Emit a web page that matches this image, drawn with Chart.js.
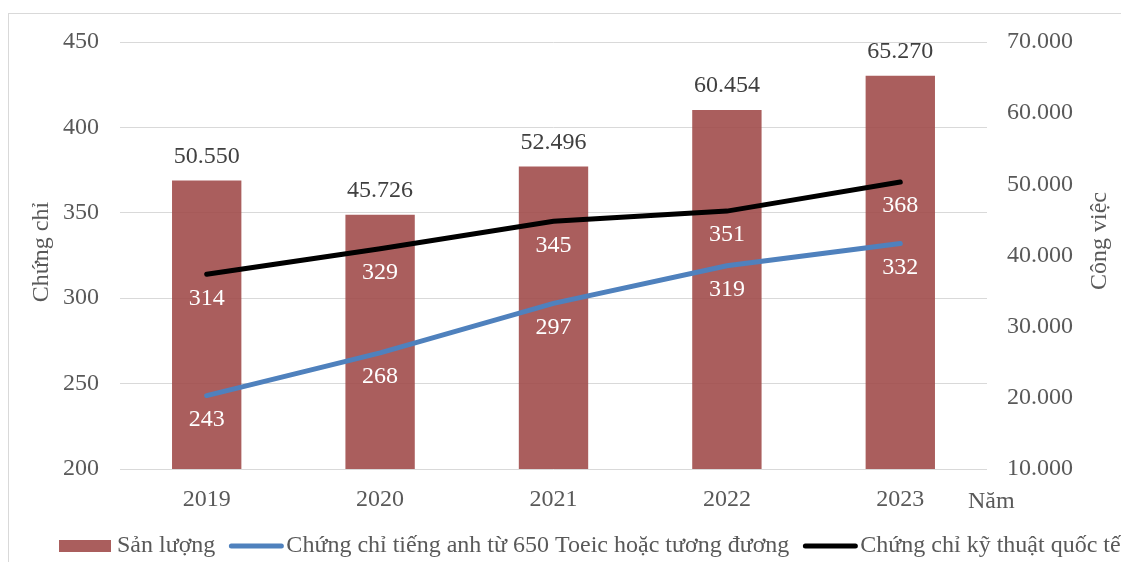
<!DOCTYPE html>
<html>
<head>
<meta charset="utf-8">
<script src="https://cdn.jsdelivr.net/npm/chart.js@4.4.0/dist/chart.umd.min.js"></script>
<style>
  html, body { margin: 0; padding: 0; background: #fff; }
  #wrap { width: 1121px; height: 562px; position: relative; }
</style>
</head>
<body>
<div id="wrap"><canvas id="sanLuongChart" width="1121" height="562"></canvas></div>
<script>
// Dữ liệu theo năm
const years = ['2019', '2020', '2021', '2022', '2023'];
const sanLuong = [50550, 45726, 52496, 60454, 65270];
const chungChiTiengAnh = [243, 268, 297, 319, 332];
const chungChiKyThuat = [314, 329, 345, 351, 368];
const leftTicks = [200, 250, 300, 350, 400, 450];
const rightTicks = [10000, 20000, 30000, 40000, 50000, 60000, 70000];

const FONT = '"Liberation Serif", "Times New Roman", serif';
const FONT_SIZE = 24;
const TEXT_GRAY = '#595959';
const GRID_GRAY = '#D9D9D9';

// 50550 -> "50.550"
function formatNumber(v) {
    return String(v).replace(/\B(?=(\d{3})+(?!\d))/g, '.');
}

// Nhãn giá trị: trên cột cho sản lượng, dưới điểm cho hai đường
const valueLabels = {
    id: 'valueLabels',
    afterDatasetsDraw(chart) {
        const ctx = chart.ctx;
        ctx.save();
        ctx.font = FONT_SIZE + 'px ' + FONT;
        ctx.textAlign = 'center';
        ctx.textBaseline = 'middle';
        chart.data.datasets.forEach((ds, i) => {
            const meta = chart.getDatasetMeta(i);
            meta.data.forEach((el, j) => {
                if (ds.type === 'bar') {
                    ctx.fillStyle = '#404040';
                    ctx.fillText(formatNumber(ds.data[j]), el.x, el.y - 24);
                } else {
                    ctx.fillStyle = '#FFFFFF';
                    ctx.fillText(String(ds.data[j]), el.x, el.y + 24);
                }
            });
        });
        ctx.restore();
    }
};

// Khung viền, tiêu đề trục và chú giải
const decorations = {
    id: 'decorations',
    afterDraw(chart) {
        const ctx = chart.ctx;
        ctx.save();

        ctx.strokeStyle = GRID_GRAY;
        ctx.lineWidth = 1;
        ctx.strokeRect(8.5, 13.5, 1300, 700);

        ctx.fillStyle = TEXT_GRAY;
        ctx.font = FONT_SIZE + 'px ' + FONT;
        ctx.textAlign = 'center';
        ctx.textBaseline = 'middle';
        ctx.save();
        ctx.translate(42, 252);
        ctx.rotate(-Math.PI / 2);
        ctx.fillText('Chứng chỉ', 0, 0);
        ctx.restore();
        ctx.save();
        ctx.translate(1100, 241);
        ctx.rotate(-Math.PI / 2);
        ctx.fillText('Công việc', 0, 0);
        ctx.restore();

        ctx.textAlign = 'left';
        ctx.fillText('Năm', 968, 502);

        // chú giải: cột, đường xanh, đường đen
        const legendY = 546;
        const items = [chart.data.datasets[2], chart.data.datasets[0], chart.data.datasets[1]];
        let x = 59;
        items.forEach(ds => {
            if (ds.type === 'bar') {
                ctx.fillStyle = ds.backgroundColor;
                ctx.fillRect(x, legendY - 6, 52, 12);
                x += 58;
            } else {
                ctx.strokeStyle = ds.borderColor;
                ctx.lineWidth = 5;
                ctx.lineCap = 'round';
                ctx.beginPath();
                ctx.moveTo(x + 3, legendY);
                ctx.lineTo(x + 53, legendY);
                ctx.stroke();
                x += 58;
            }
            ctx.fillStyle = TEXT_GRAY;
            ctx.fillText(ds.label, x, legendY);
            x += ctx.measureText(ds.label).width + 13;
        });
        ctx.restore();
    }
};

const ctx = document.getElementById('sanLuongChart').getContext('2d');
new Chart(ctx, {
    data: {
        labels: years,
        datasets: [
            {
                type: 'line',
                label: 'Chứng chỉ tiếng anh từ 650 Toeic hoặc tương đương',
                data: chungChiTiengAnh,
                yAxisID: 'y',
                borderColor: '#4F81BD',
                borderWidth: 5,
                borderCapStyle: 'round',
                pointRadius: 0,
                fill: false,
                order: 1
            },
            {
                type: 'line',
                label: 'Chứng chỉ kỹ thuật quốc tế',
                data: chungChiKyThuat,
                yAxisID: 'y',
                borderColor: '#000000',
                borderWidth: 5,
                borderCapStyle: 'round',
                pointRadius: 0,
                fill: false,
                order: 2
            },
            {
                type: 'bar',
                label: 'Sản lượng',
                data: sanLuong,
                yAxisID: 'y1',
                backgroundColor: 'rgba(158, 72, 71, 0.88)',
                barPercentage: 0.4,
                categoryPercentage: 1,
                order: 3
            }
        ]
    },
    options: {
        responsive: false,
        animation: false,
        layout: { padding: { top: 42, left: 0, right: 0, bottom: 0 } },
        plugins: {
            legend: { display: false },
            tooltip: { enabled: false }
        },
        scales: {
            x: {
                grid: { display: false, drawTicks: false },
                border: { display: false },
                ticks: { font: { family: FONT, size: FONT_SIZE }, color: TEXT_GRAY, padding: 16 },
                afterFit: s => { s.height = 93; }
            },
            y: {
                position: 'left',
                min: leftTicks[0],
                max: leftTicks[leftTicks.length - 1],
                afterBuildTicks: s => { s.ticks = leftTicks.map(v => ({ value: v })); },
                grid: { color: GRID_GRAY, lineWidth: 1, drawTicks: false },
                border: { display: false },
                ticks: { font: { family: FONT, size: FONT_SIZE }, color: TEXT_GRAY, padding: 21 },
                afterFit: s => { s.width = 120; }
            },
            y1: {
                position: 'right',
                min: rightTicks[0],
                max: rightTicks[rightTicks.length - 1],
                afterBuildTicks: s => { s.ticks = rightTicks.map(v => ({ value: v })); },
                grid: { display: false, drawTicks: false },
                border: { display: false },
                ticks: {
                    font: { family: FONT, size: FONT_SIZE },
                    color: TEXT_GRAY,
                    padding: 20,
                    callback: v => formatNumber(v)
                },
                afterFit: s => { s.width = 134; }
            }
        }
    },
    plugins: [valueLabels, decorations]
});
</script>
</body>
</html>
